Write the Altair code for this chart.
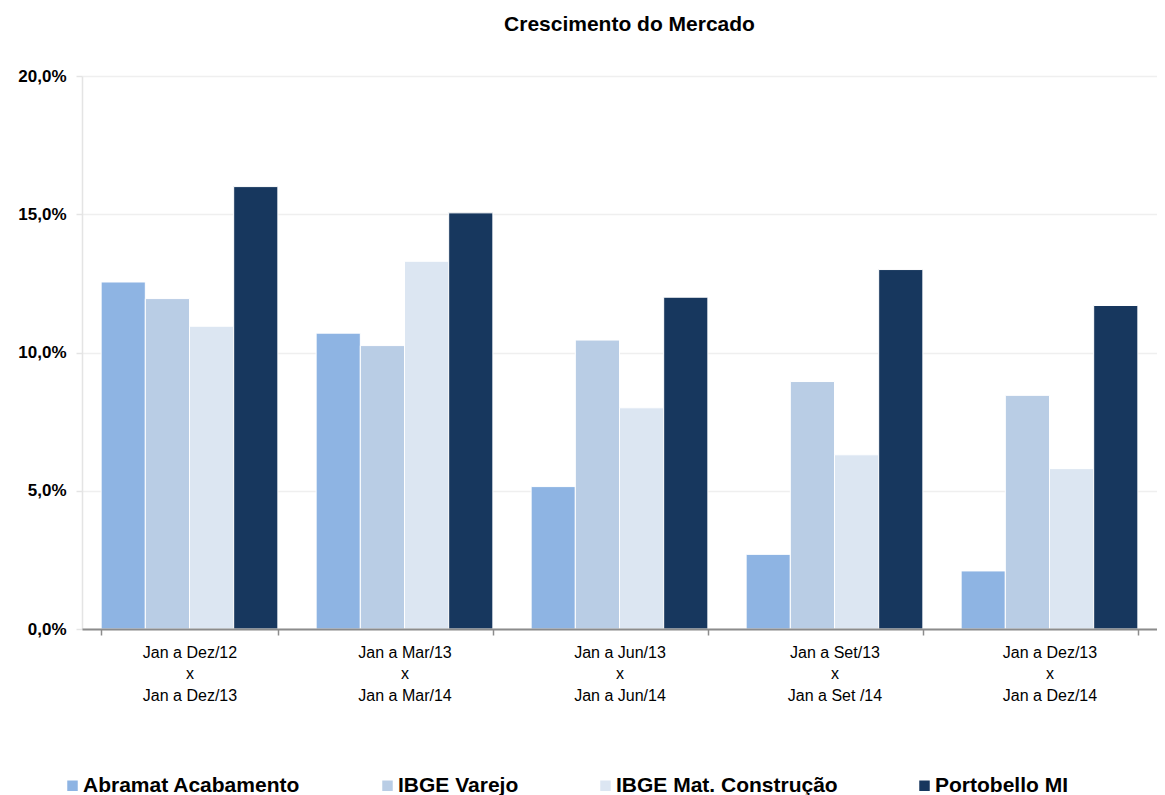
import altair as alt
import pandas as pd

categories = [
    "Jan a Dez/12|x|Jan a Dez/13",
    "Jan a Mar/13|x|Jan a Mar/14",
    "Jan a Jun/13|x|Jan a Jun/14",
    "Jan a Set/13|x|Jan a Set /14",
    "Jan a Dez/13|x|Jan a Dez/14",
]
series = ["Abramat Acabamento", "IBGE Varejo", "IBGE Mat. Construção", "Portobello MI"]
abramat = [12.55, 10.7, 5.15, 2.7, 2.1]
ibge_varejo = [11.95, 10.25, 10.45, 8.95, 8.45]
ibge_mat = [10.95, 13.3, 8.0, 6.3, 5.8]
portobello = [16.0, 15.05, 12.0, 13.0, 11.7]
colors = ["#8EB4E3", "#B9CDE5", "#DCE6F2", "#17375E"]
y_ticks = [0, 5, 10, 15, 20]

rows = []
for s, vals in zip(series, [abramat, ibge_varejo, ibge_mat, portobello]):
    for c, v in zip(categories, vals):
        rows.append({"cat": c, "series": s, "value": v})
df = pd.DataFrame(rows)

FONT = "Liberation Sans"

chart = (
    alt.Chart(df)
    .mark_bar(stroke="white", strokeWidth=1)
    .encode(
        x=alt.X(
            "cat:N",
            sort=categories,
            scale=alt.Scale(paddingInner=0.178, paddingOuter=0.089),
            axis=alt.Axis(
                title=None,
                labelExpr="split(datum.label, '|')",
                labelAngle=0,
                tickBand="extent",
                labelFontSize=16,
                labelColor="black",
                labelPadding=9,
                labelLineHeight=21.5,
                domainColor="#8c8c8c",
                domainWidth=2,
                tickColor="#8c8c8c",
                tickSize=6,
                tickWidth=1.5,
                grid=False,
                zindex=1,
            ),
        ),
        xOffset=alt.XOffset("series:N", sort=series, scale=alt.Scale(paddingInner=0, paddingOuter=0)),
        y=alt.Y(
            "value:Q",
            scale=alt.Scale(domain=[0, 20]),
            axis=alt.Axis(
                title=None,
                values=y_ticks,
                labelExpr="replace(format(datum.value, '.1f'), '.', ',') + '%'",
                labelFontSize=17,
                labelFontWeight="bold",
                labelColor="black",
                labelPadding=10,
                domainColor="#e4e4e4",
                domainWidth=1.5,
                tickColor="#e4e4e4",
                tickSize=6,
                tickWidth=1.5,
                gridColor="#efefef",
                gridWidth=1.5,
            ),
        ),
        color=alt.Color(
            "series:N",
            sort=series,
            scale=alt.Scale(domain=series, range=colors),
            legend=alt.Legend(
                title=None,
                orient="none",
                legendX=-20,
                legendY=699,
                direction="horizontal",
                symbolType="square",
                symbolSize=110,
                symbolStrokeWidth=0,
                symbolOpacity=1,
                labelFontSize=21,
                labelFontWeight="bold",
                labelColor="black",
                labelOffset=0,
                columnPadding=76,
                labelLimit=400,
            ),
        ),
    )
    .properties(
        width=1075,
        height=553,
        padding={"left": 9, "top": 6, "right": 0, "bottom": 0},
        title=alt.Title(
            "Crescimento do Mercado",
            fontSize=21,
            fontWeight="bold",
            color="black",
            offset=32,
            anchor="middle",
            dx=10,
            font=FONT,
        ),
    )
    .configure(font=FONT)
    .configure_view(stroke=None)
)

chart.save("out.html", embed_options={"renderer": "svg", "actions": False})
